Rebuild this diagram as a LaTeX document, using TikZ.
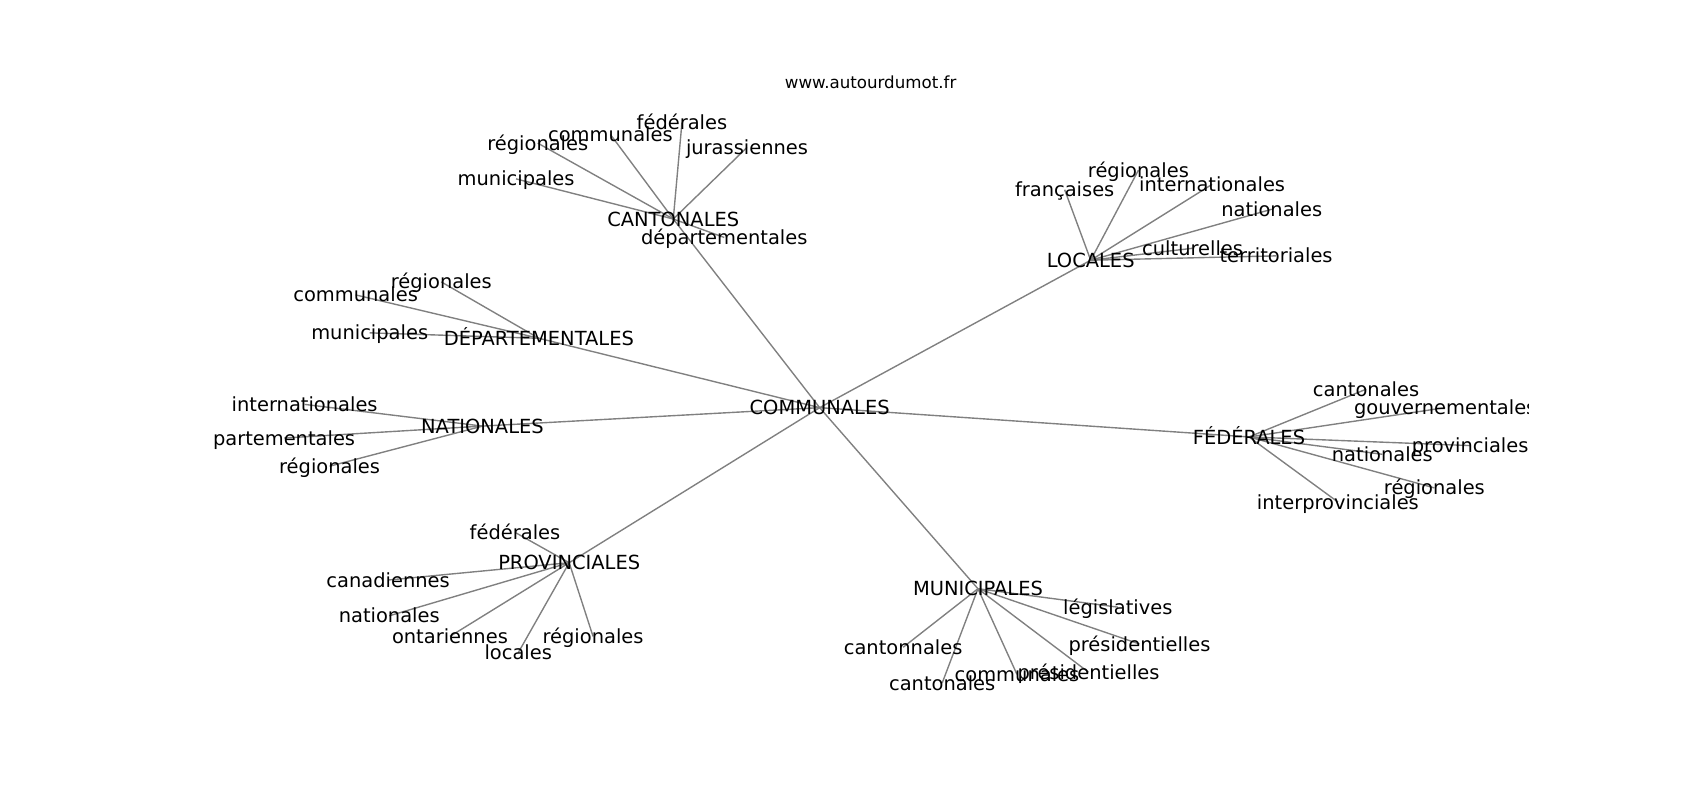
\documentclass[tikz,border=0pt]{standalone}
\usepackage{fontspec}
\setmainfont{DejaVu Sans}
\usepackage{tikz}
\usetikzlibrary{backgrounds}

\tikzset{
  lbl/.style={font=\fontsize{14}{16}\selectfont, inner sep=0pt, text height=10.6pt, text depth=0.4pt},
  edge/.style={draw=gray, line width=1pt}
}

\begin{document}
\begin{tikzpicture}[x=0.7806pt, y=-0.7806pt]
\useasboundingbox (0,0) rectangle (1568,738);

%Title
\node[font=\fontsize{12}{14}\selectfont, inner sep=0pt] (title) at (803,76) {www.autourdumot.fr};

\begin{scope}
\clip (196,88.6) rectangle (1410,656);
%Nodes
\node[lbl]  (comm)      at (756,376)    {COMMUNALES};
\node[lbl]  (cant)      at (621,202)    {CANTONALES};
\node[lbl]  (loc)       at (1006,240)   {LOCALES};
\node[lbl]  (dep)       at (497,312)    {DÉPARTEMENTALES};
\node[lbl]  (nat)       at (445,393)    {NATIONALES};
\node[lbl]  (fed)       at (1152,403)   {FÉDÉRALES};
\node[lbl]  (prov)      at (525,519)    {PROVINCIALES};
\node[lbl]  (mun)       at (902,543)    {MUNICIPALES};

\node[lbl]  (cantFed)   at (629,113)    {fédérales};
\node[lbl]  (cantComm)  at (563,124)    {communales};
\node[lbl]  (cantReg)   at (496,132)    {régionales};
\node[lbl]  (cantJura)  at (689,136)    {jurassiennes};
\node[lbl]  (cantMun)   at (476,165)    {municipales};
\node[lbl]  (cantDep)   at (668,219)    {départementales};

\node[lbl]  (locReg)    at (1050,157)   {régionales};
\node[lbl]  (locFr)     at (982,175)    {françaises};
\node[lbl]  (locInt)    at (1118,170)   {internationales};
\node[lbl]  (locNat)    at (1173,193)   {nationales};
\node[lbl]  (locCult)   at (1100,229)   {culturelles};
\node[lbl]  (locTerr)   at (1177,236)   {territoriales};

\node[lbl]  (depReg)    at (407,260)    {régionales};
\node[lbl]  (depComm)   at (328,272)    {communales};
\node[lbl]  (depMun)    at (341,307)    {municipales};

\node[lbl]  (natInt)    at (281,373)    {internationales};
\node[lbl]  (natDep)    at (262,404)    {partementales};
\node[lbl]  (natReg)    at (304,430)    {régionales};

\node[lbl]  (fedCant)   at (1260,359)   {cantonales};
\node[lbl]  (fedGouv)   at (1333,376)   {gouvernementales};
\node[lbl]  (fedProv)   at (1356,411)   {provinciales};
\node[lbl]  (fedNat)    at (1275,419)   {nationales};
\node[lbl]  (fedReg)    at (1323,450)   {régionales};
\node[lbl]  (fedInter)  at (1234,463)   {interprovinciales};

\node[lbl]  (provFed)   at (475,491)    {fédérales};
\node[lbl]  (provCan)   at (358,535)    {canadiennes};
\node[lbl]  (provNat)   at (359,568)    {nationales};
\node[lbl]  (provOnt)   at (415,587)    {ontariennes};
\node[lbl]  (provLoc)   at (478,602)    {locales};
\node[lbl]  (provReg)   at (547,587)    {régionales};

\node[lbl]  (munLeg)    at (1031,560)   {législatives};
\node[lbl]  (munPres)   at (1051,594)   {présidentielles};
\node[lbl]  (munPresB)  at (1004,620)   {présidentielles};
\node[lbl]  (munComm)   at (938,622)    {communales};
\node[lbl]  (munCant)   at (869,630)    {cantonales};
\node[lbl]  (munCantn)  at (833,597)    {cantonnales};
\end{scope}

%Lines
\begin{pgfonlayer}{background}
\draw[edge] (comm.center) -- (cant.center);
\draw[edge] (comm.center) -- (loc.center);
\draw[edge] (comm.center) -- (dep.center);
\draw[edge] (comm.center) -- (nat.center);
\draw[edge] (comm.center) -- (fed.center);
\draw[edge] (comm.center) -- (prov.center);
\draw[edge] (comm.center) -- (mun.center);

\draw[edge] (cant.center) -- (cantFed.center);
\draw[edge] (cant.center) -- (cantComm.center);
\draw[edge] (cant.center) -- (cantReg.center);
\draw[edge] (cant.center) -- (cantJura.center);
\draw[edge] (cant.center) -- (cantMun.center);
\draw[edge] (cant.center) -- (cantDep.center);

\draw[edge] (loc.center) -- (locReg.center);
\draw[edge] (loc.center) -- (locFr.center);
\draw[edge] (loc.center) -- (locInt.center);
\draw[edge] (loc.center) -- (locNat.center);
\draw[edge] (loc.center) -- (locCult.center);
\draw[edge] (loc.center) -- (locTerr.center);

\draw[edge] (dep.center) -- (depReg.center);
\draw[edge] (dep.center) -- (depComm.center);
\draw[edge] (dep.center) -- (depMun.center);

\draw[edge] (nat.center) -- (natInt.center);
\draw[edge] (nat.center) -- (natDep.center);
\draw[edge] (nat.center) -- (natReg.center);

\draw[edge] (fed.center) -- (fedCant.center);
\draw[edge] (fed.center) -- (fedGouv.center);
\draw[edge] (fed.center) -- (fedProv.center);
\draw[edge] (fed.center) -- (fedNat.center);
\draw[edge] (fed.center) -- (fedReg.center);
\draw[edge] (fed.center) -- (fedInter.center);

\draw[edge] (prov.center) -- (provFed.center);
\draw[edge] (prov.center) -- (provCan.center);
\draw[edge] (prov.center) -- (provNat.center);
\draw[edge] (prov.center) -- (provOnt.center);
\draw[edge] (prov.center) -- (provLoc.center);
\draw[edge] (prov.center) -- (provReg.center);

\draw[edge] (mun.center) -- (munLeg.center);
\draw[edge] (mun.center) -- (munPres.center);
\draw[edge] (mun.center) -- (munPresB.center);
\draw[edge] (mun.center) -- (munComm.center);
\draw[edge] (mun.center) -- (munCant.center);
\draw[edge] (mun.center) -- (munCantn.center);
\end{pgfonlayer}
\end{tikzpicture}
\end{document}
